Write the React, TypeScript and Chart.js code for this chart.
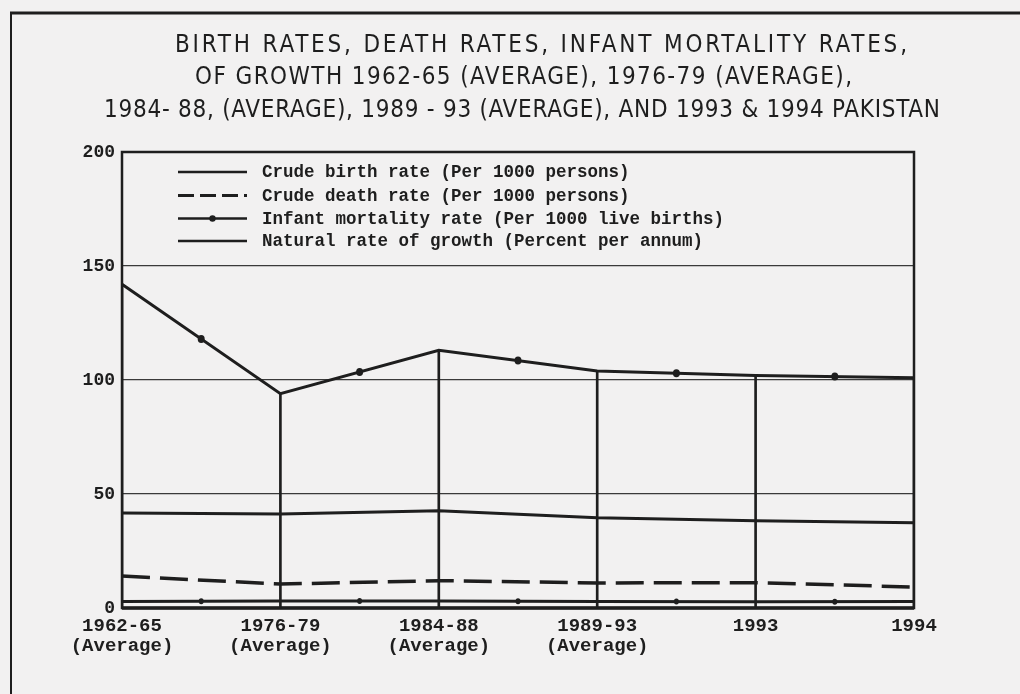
import React, { useEffect, useRef } from "react";
import { Chart, registerables } from "chart.js";

Chart.register(...registerables);

const categories: string[][] = [
  ["1962-65", "(Average)"],
  ["1976-79", "(Average)"],
  ["1984-88", "(Average)"],
  ["1989-93", "(Average)"],
  ["1993"],
  ["1994"],
];
const birthRate = [41.7, 41.2, 42.7, 39.6, 38.3, 37.4];
const deathRate = [14.0, 10.5, 12.0, 11.0, 11.1, 9.2];
const infantMortality = [142, 94, 113, 104, 102, 101];
const naturalGrowth = [2.8, 3.1, 3.1, 2.9, 2.7, 2.8];
const yTickValues = [0, 50, 100, 150, 200];
const titleLines = [
  "BIRTH RATES, DEATH RATES, INFANT MORTALITY RATES,",
  "OF GROWTH 1962-65 (AVERAGE), 1976-79 (AVERAGE),",
  "1984- 88, (AVERAGE), 1989 - 93 (AVERAGE), AND 1993 & 1994 PAKISTAN",
];
const legendLabels = [
  "Crude birth rate (Per 1000 persons)",
  "Crude death rate (Per 1000 persons)",
  "Infant mortality rate (Per 1000 live births)",
  "Natural rate of growth (Percent per annum)",
];

const INK = "#1e1e1e";
const PAPER = "#f2f1f1";
const MONO = '"Liberation Mono", "DejaVu Sans Mono", monospace';

const paperPlugin = {
  id: "paper",
  beforeDraw(chart: any) {
    const { ctx, width, height } = chart;
    ctx.save();
    ctx.fillStyle = PAPER;
    ctx.fillRect(0, 0, width, height);
    ctx.strokeStyle = INK;
    ctx.lineWidth = 3;
    ctx.beginPath();
    ctx.moveTo(10, 13);
    ctx.lineTo(width, 13);
    ctx.stroke();
    ctx.lineWidth = 2;
    ctx.beginPath();
    ctx.moveTo(11, 13);
    ctx.lineTo(11, height);
    ctx.stroke();
    ctx.restore();
  },
};

const titlePlugin = {
  id: "scanTitle",
  afterDraw(chart: any) {
    const { ctx } = chart;
    const spans = [
      [175, 907, 46],
      [195, 852, 78],
      [104, 940, 111],
    ];
    ctx.save();
    ctx.fillStyle = INK;
    ctx.textBaseline = "middle";
    ctx.textAlign = "left";
    ctx.font = '24px "DejaVu Sans Condensed", "DejaVu Sans", sans-serif';
    titleLines.forEach((line, i) => {
      const [x0, x1, y] = spans[i];
      (ctx as any).letterSpacing = "0px";
      const w0 = ctx.measureText(line).width;
      const ls = (x1 - x0 - w0) / Math.max(1, line.length - 1);
      (ctx as any).letterSpacing = ls + "px";
      ctx.fillText(line, x0, y);
    });
    (ctx as any).letterSpacing = "0px";
    ctx.restore();
  },
};

const frameAndLegendPlugin = {
  id: "frameLegend",
  afterDatasetsDraw(chart: any) {
    const { ctx, chartArea } = chart;
    const { left, top, right, bottom } = chartArea;
    ctx.save();
    // plot frame
    ctx.strokeStyle = INK;
    ctx.lineWidth = 2.5;
    ctx.strokeRect(left, top, right - left, bottom - top);
    ctx.lineWidth = 3.5;
    ctx.beginPath();
    ctx.moveTo(left, bottom);
    ctx.lineTo(right, bottom);
    ctx.stroke();

    // midpoint markers on infant mortality and natural growth lines
    [2, 3].forEach((di, k) => {
      const meta = chart.getDatasetMeta(di);
      const pts = meta.data;
      ctx.fillStyle = INK;
      for (let i = 0; i < pts.length - 1; i++) {
        const mx = (pts[i].x + pts[i + 1].x) / 2;
        const my = (pts[i].y + pts[i + 1].y) / 2;
        ctx.beginPath();
        ctx.ellipse(mx, my, k === 0 ? 3.5 : 2.5, k === 0 ? 4 : 3, 0, 0, Math.PI * 2);
        ctx.fill();
      }
    });

    // legend
    const rows = [172, 195.5, 218.5, 241];
    const sx0 = left + 56;
    const sx1 = left + 125;
    const tx = left + 140;
    ctx.font = "bold 17.5px " + MONO;
    ctx.textBaseline = "middle";
    ctx.textAlign = "left";
    legendLabels.forEach((label, i) => {
      const y = rows[i];
      ctx.strokeStyle = INK;
      ctx.lineWidth = i === 1 ? 3 : 2.5;
      ctx.setLineDash(i === 1 ? [16, 6] : []);
      ctx.beginPath();
      ctx.moveTo(sx0, y);
      ctx.lineTo(sx1, y);
      ctx.stroke();
      ctx.setLineDash([]);
      if (i === 2) {
        ctx.fillStyle = INK;
        ctx.beginPath();
        ctx.arc((sx0 + sx1) / 2, y, 3.2, 0, Math.PI * 2);
        ctx.fill();
      }
      ctx.fillStyle = INK;
      ctx.fillText(label, tx, y + 1);
    });
    ctx.restore();
  },
};

export default function App() {
  const ref = useRef<HTMLCanvasElement | null>(null);

  useEffect(() => {
    if (!ref.current) return;
    const chart = new Chart(ref.current, {
      type: "line",
      data: {
        labels: categories as any,
        datasets: [
          {
            label: legendLabels[0],
            data: birthRate,
            borderColor: INK,
            borderWidth: 3,
            pointRadius: 0,
            tension: 0,
          },
          {
            label: legendLabels[1],
            data: deathRate,
            borderColor: INK,
            borderWidth: 3.5,
            borderDash: [28, 10],
            pointRadius: 0,
            tension: 0,
          },
          {
            label: legendLabels[2],
            data: infantMortality,
            borderColor: INK,
            borderWidth: 3,
            pointRadius: 0,
            tension: 0,
          },
          {
            label: legendLabels[3],
            data: naturalGrowth,
            borderColor: INK,
            borderWidth: 3,
            pointRadius: 0,
            tension: 0,
          },
          {
            type: "bar",
            label: "drop",
            data: infantMortality,
            backgroundColor: INK,
            barThickness: 2,
            borderWidth: 0,
          } as any,
        ],
      },
      options: {
        responsive: false,
        animation: false,
        events: [],
        layout: { padding: { top: 152, right: 106, left: 0, bottom: 0 } },
        plugins: {
          legend: { display: false },
          title: { display: false },
          tooltip: { enabled: false },
        },
        scales: {
          x: {
            type: "category",
            offset: false,
            grid: { display: false, drawTicks: false },
            border: { display: false },
            afterFit: (scale: any) => {
              scale.height = 86;
            },
            ticks: {
              color: INK,
              padding: 8,
              maxRotation: 0,
              autoSkip: false,
              font: { family: MONO, size: 19, weight: "bold", lineHeight: 1.05 },
            },
          },
          y: {
            min: 0,
            max: 200,
            afterBuildTicks: (scale: any) => {
              scale.ticks = yTickValues.map((v) => ({ value: v }));
            },
            afterFit: (scale: any) => {
              scale.width = 122;
            },
            grid: {
              drawTicks: false,
              color: (c: any) =>
                c.tick && (c.tick.value === 0 || c.tick.value === 200) ? "rgba(0,0,0,0)" : "#3a3a3a",
              lineWidth: 1.3,
            },
            border: { display: false },
            ticks: {
              color: INK,
              padding: 7,
              font: { family: MONO, size: 18, weight: "bold" },
            },
          },
        },
      },
      plugins: [paperPlugin, frameAndLegendPlugin, titlePlugin],
    } as any);
    return () => chart.destroy();
  }, []);

  return (
    <div style={{ position: "fixed", left: 0, top: 0, width: 1020, height: 694, background: PAPER }}>
      <canvas ref={ref} width={1020} height={694} style={{ display: "block" }} />
    </div>
  );
}
